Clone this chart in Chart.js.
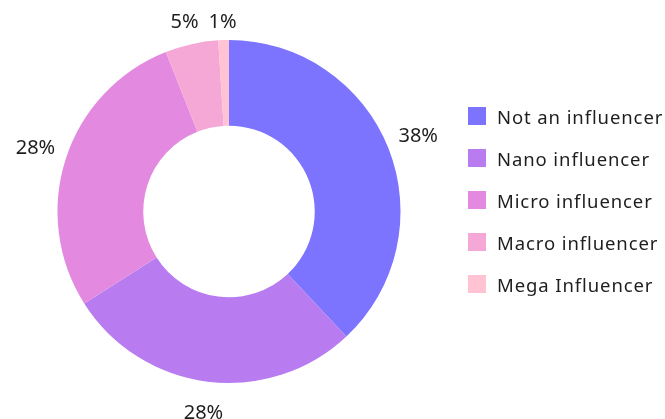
<!DOCTYPE html>
<html>
<head>
<meta charset="utf-8">
<script src="https://cdn.jsdelivr.net/npm/chart.js@4"></script>
<style>
    html, body { margin: 0; padding: 0; background: #ffffff; }
    #wrap { position: relative; width: 665px; height: 419px; }
    #legend { position: absolute; left: 468px; top: 107px; margin: 0; padding: 0; list-style: none;
              font-family: "Noto Sans", sans-serif; font-size: 18.5px; color: #1e1e1e; letter-spacing: 0.9px; }
    #legend li { display: flex; align-items: center; height: 18px; margin-bottom: 24px; white-space: nowrap; }
    #legend span.box { display: inline-block; width: 18px; height: 18px; margin-right: 11px; }
</style>
</head>
<body>
<div id="wrap">
    <canvas id="chart" width="665" height="419"></canvas>
    <ul id="legend"></ul>
</div>
<script>
// ===== DATA =====
const categories = ["Not an influencer", "Nano influencer", "Micro influencer", "Macro influencer", "Mega Influencer"];
const shares = [38, 28, 28, 5, 1];
const colors = ["#7c73ff", "#b87cf0", "#e38ae0", "#f5a7d6", "#ffc3d4"];

// ===== PERCENT LABELS OUTSIDE THE RING =====
const outsideLabels = {
    id: "outsideLabels",
    afterDatasetsDraw(chart) {
        const ctx = chart.ctx;
        const meta = chart.getDatasetMeta(0);
        ctx.save();
        ctx.font = "20px 'Noto Sans', sans-serif";
        ctx.fillStyle = "#1e1e1e";
        ctx.textAlign = "center";
        ctx.textBaseline = "middle";
        meta.data.forEach((arc, i) => {
            const mid = (arc.startAngle + arc.endAngle) / 2;
            const r = arc.outerRadius + 32;
            const x = arc.x + Math.cos(mid) * r;
            let y = arc.y + Math.sin(mid) * r;
            y = Math.max(y, chart.chartArea.top - 18); // keep top labels on canvas
            ctx.fillText(shares[i] + "%", x, y);
        });
        ctx.restore();
    }
};

new Chart(document.getElementById("chart"), {
    type: "doughnut",
    data: {
        labels: categories,
        datasets: [{
            data: shares,
            backgroundColor: colors,
            borderWidth: 0
        }]
    },
    options: {
        responsive: false,
        animation: false,
        cutout: "50%",
        layout: { padding: { top: 40, bottom: 36, left: 0, right: 207 } },
        plugins: {
            legend: { display: false },
            tooltip: { enabled: false }
        }
    },
    plugins: [outsideLabels]
});

// ===== LEGEND =====
const legend = document.getElementById("legend");
categories.forEach((name, i) => {
    const li = document.createElement("li");
    li.innerHTML = `<span class="box" style="background:${colors[i]}"></span>${name}`;
    legend.appendChild(li);
});
</script>
</body>
</html>
